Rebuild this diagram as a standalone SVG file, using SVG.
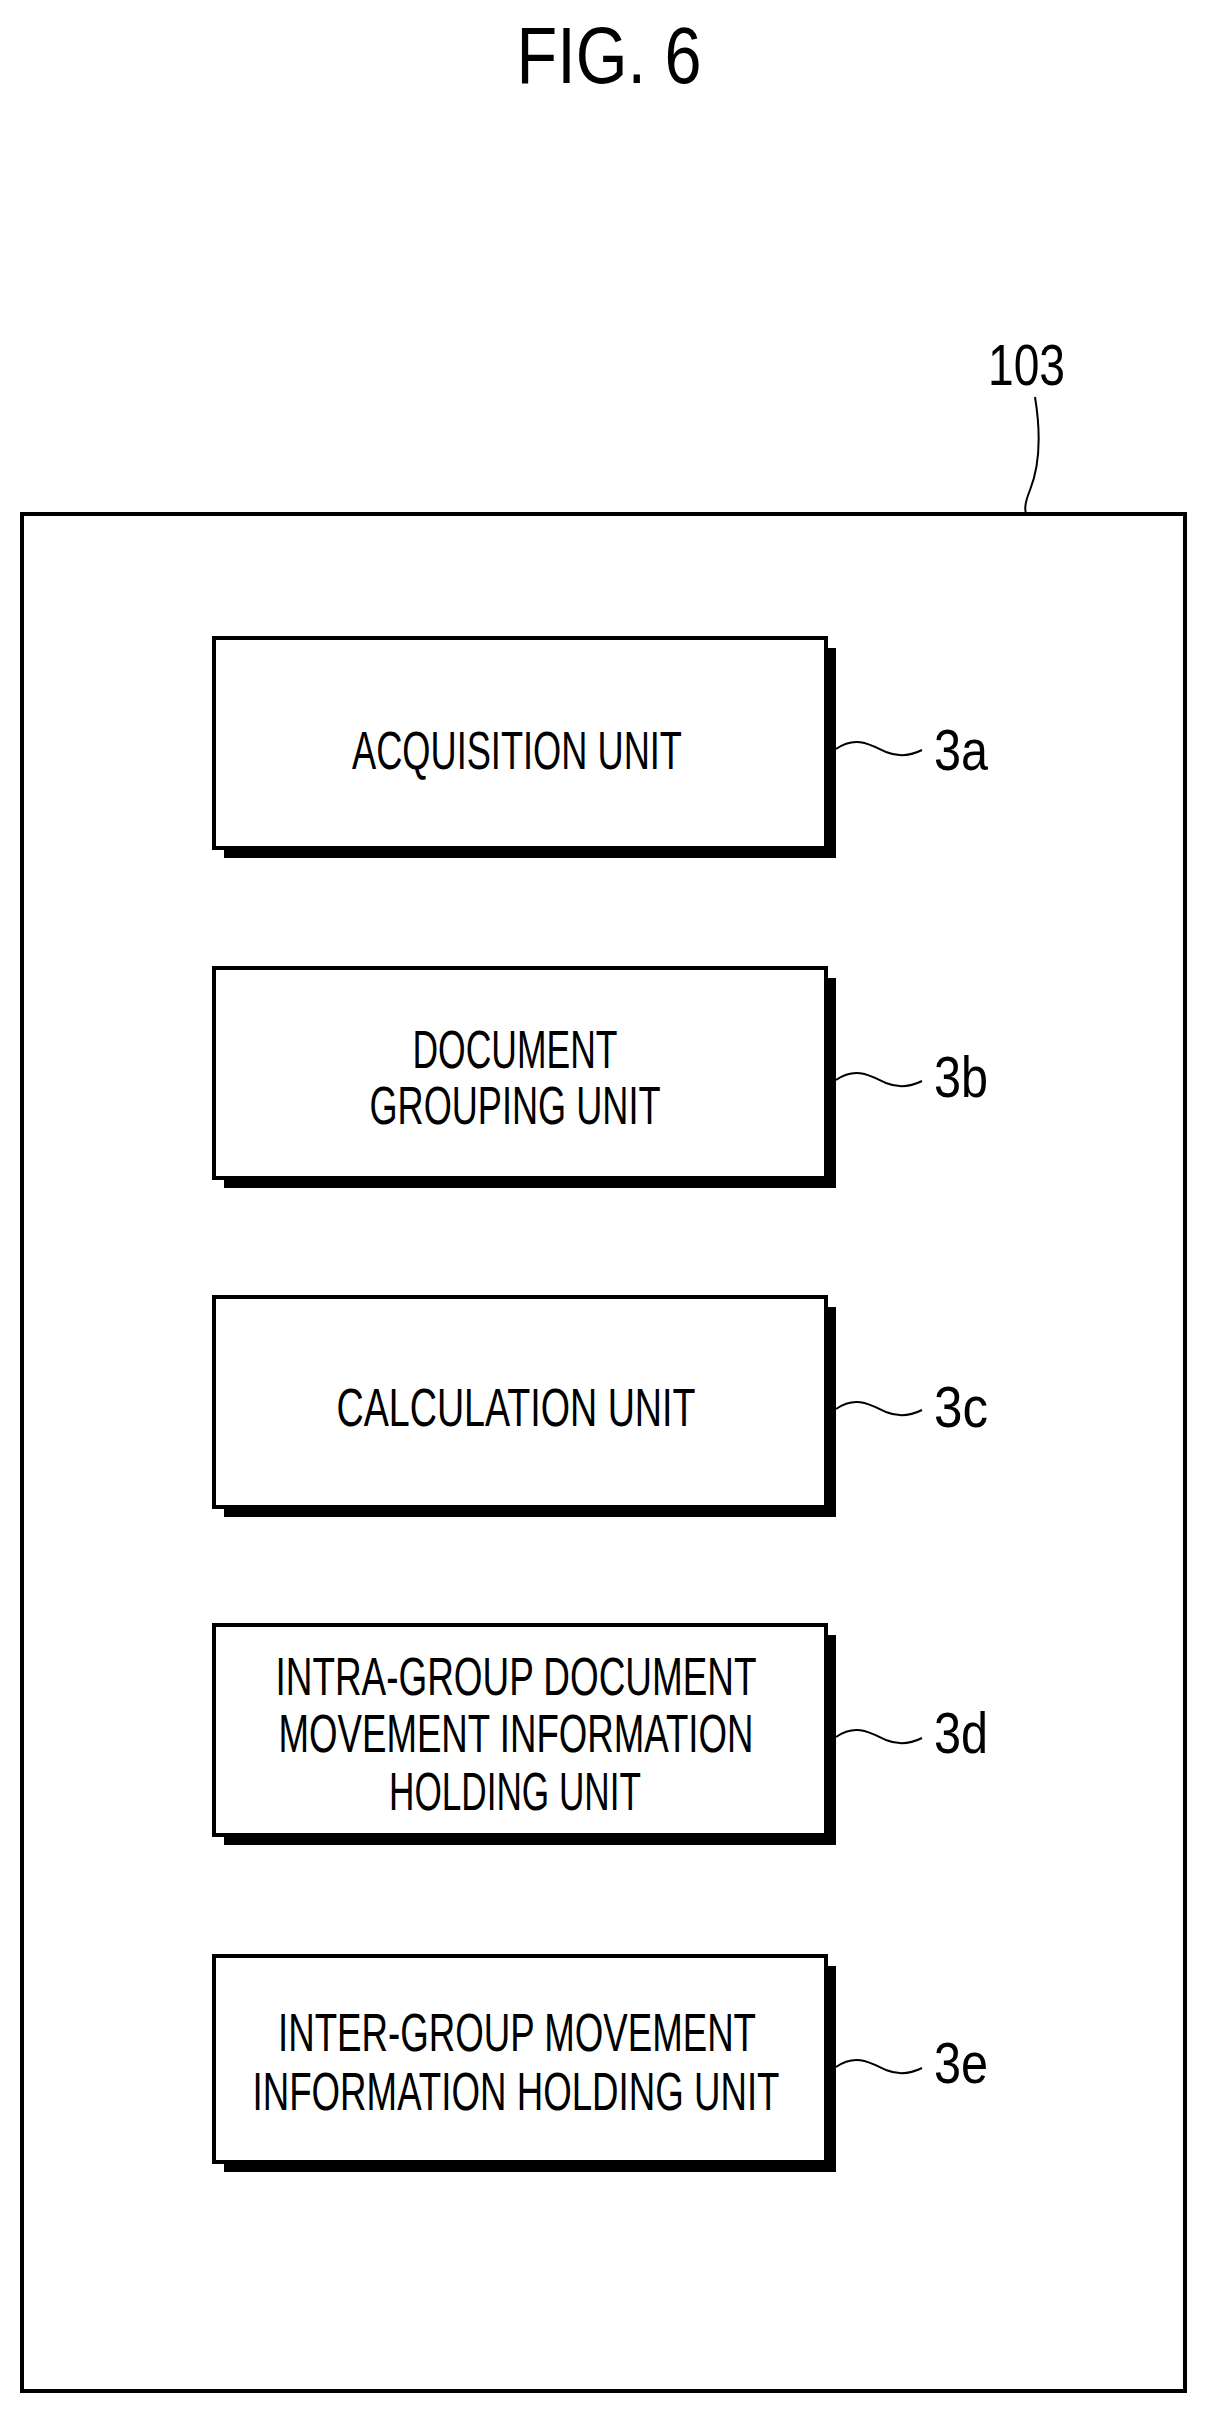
<svg xmlns="http://www.w3.org/2000/svg" width="1207" height="2418" viewBox="0 0 1207 2418">
<style>
text{font-family:"Liberation Sans",Arial,sans-serif;fill:#000}
.t{font-size:54px;text-anchor:middle}
.r{font-size:58px}
.box{fill:#fff;stroke:#000;stroke-width:4}
.sh{fill:#000}
.lead{fill:none;stroke:#000;stroke-width:2}
</style>
<rect width="1207" height="2418" fill="#fff"/>
<text x="609" y="83" font-size="80" text-anchor="middle" textLength="185" lengthAdjust="spacingAndGlyphs">FIG. 6</text>
<g id="n103">
<rect x="22" y="514" width="1163" height="1877" fill="none" stroke="#000" stroke-width="4"/>
<text class="r" x="988" y="385" textLength="77" lengthAdjust="spacingAndGlyphs">103</text>
</g>
<g id="connectors">
<path class="lead" d="M1035,397 C1042,440 1038,470 1030,490 C1024,505 1025,510 1026,514"/>
<path class="lead" d="M836,749 C856,735 871,745 886,752 C898,757 910,756 922,750"/>
<path class="lead" d="M836,1080 C856,1066 871,1076 886,1083 C898,1088 910,1087 922,1081"/>
<path class="lead" d="M836,1409 C856,1395 871,1405 886,1412 C898,1417 910,1416 922,1410"/>
<path class="lead" d="M836,1737 C856,1723 871,1733 886,1740 C898,1745 910,1744 922,1738"/>
<path class="lead" d="M836,2067 C856,2053 871,2063 886,2070 C898,2075 910,2074 922,2068"/>
</g>
<g id="n3a">
<rect class="sh" x="224" y="648" width="612" height="210"/>
<rect class="box" x="214" y="638" width="612" height="210"/>
<text class="t" x="517" y="769" textLength="330" lengthAdjust="spacingAndGlyphs">ACQUISITION UNIT</text>
<text class="r" x="934" y="770" textLength="54" lengthAdjust="spacingAndGlyphs">3a</text>
</g>
<g id="n3b">
<rect class="sh" x="224" y="978" width="612" height="210"/>
<rect class="box" x="214" y="968" width="612" height="210"/>
<text class="t" x="515" y="1068" textLength="205" lengthAdjust="spacingAndGlyphs">DOCUMENT</text>
<text class="t" x="515" y="1124" textLength="291" lengthAdjust="spacingAndGlyphs">GROUPING UNIT</text>
<text class="r" x="934" y="1097" textLength="54" lengthAdjust="spacingAndGlyphs">3b</text>
</g>
<g id="n3c">
<rect class="sh" x="224" y="1307" width="612" height="210"/>
<rect class="box" x="214" y="1297" width="612" height="210"/>
<text class="t" x="516" y="1426" textLength="359" lengthAdjust="spacingAndGlyphs">CALCULATION UNIT</text>
<text class="r" x="934" y="1427" textLength="54" lengthAdjust="spacingAndGlyphs">3c</text>
</g>
<g id="n3d">
<rect class="sh" x="224" y="1635" width="612" height="210"/>
<rect class="box" x="214" y="1625" width="612" height="210"/>
<text class="t" x="516" y="1695" textLength="481" lengthAdjust="spacingAndGlyphs">INTRA-GROUP DOCUMENT</text>
<text class="t" x="516" y="1752" textLength="475" lengthAdjust="spacingAndGlyphs">MOVEMENT INFORMATION</text>
<text class="t" x="515" y="1810" textLength="252" lengthAdjust="spacingAndGlyphs">HOLDING UNIT</text>
<text class="r" x="934" y="1753" textLength="54" lengthAdjust="spacingAndGlyphs">3d</text>
</g>
<g id="n3e">
<rect class="sh" x="224" y="1966" width="612" height="206"/>
<rect class="box" x="214" y="1956" width="612" height="206"/>
<text class="t" x="517" y="2051" textLength="478" lengthAdjust="spacingAndGlyphs">INTER-GROUP MOVEMENT</text>
<text class="t" x="516" y="2110" textLength="527" lengthAdjust="spacingAndGlyphs">INFORMATION HOLDING UNIT</text>
<text class="r" x="934" y="2083" textLength="54" lengthAdjust="spacingAndGlyphs">3e</text>
</g>
</svg>
